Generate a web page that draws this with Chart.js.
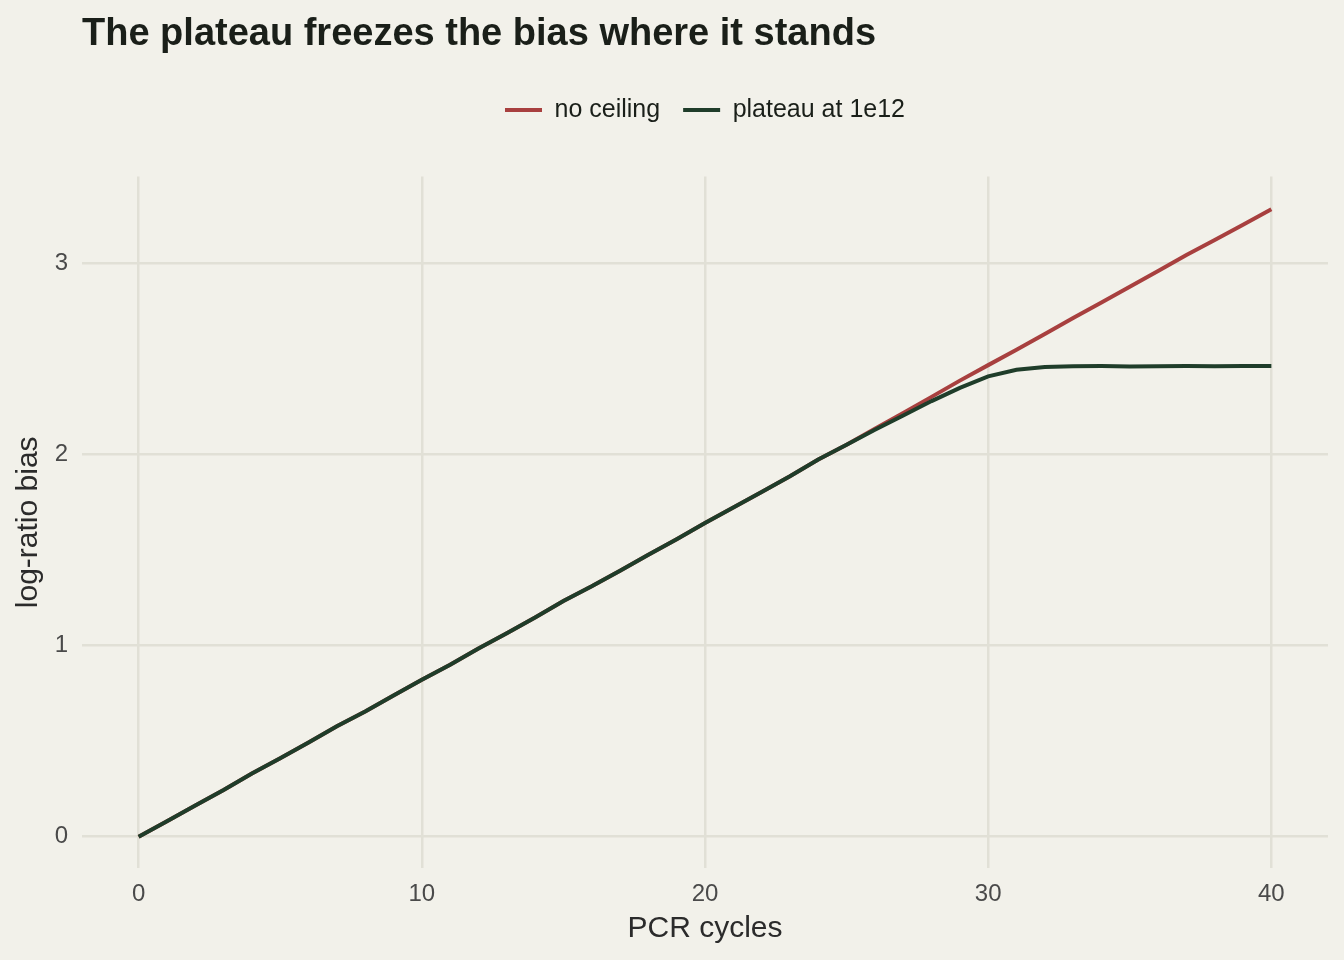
<!DOCTYPE html>
<html>
<head>
<meta charset="utf-8">
<script src="https://cdn.jsdelivr.net/npm/chart.js@4.4.1/dist/chart.umd.min.js"></script>
<style>
  html, body { margin: 0; padding: 0; background: #f2f1ea; }
  #wrap { width: 1344px; height: 960px; }
</style>
</head>
<body>
<div id="wrap"><canvas id="chart" width="1344" height="960"></canvas></div>
<script>
// PCR cycle number on the x axis
const cycles = [
  0, 1, 2, 3, 4, 5, 6, 7, 8, 9, 10,
  11, 12, 13, 14, 15, 16, 17, 18, 19, 20,
  21, 22, 23, 24, 25, 26, 27, 28, 29, 30,
  31, 32, 33, 34, 35, 36, 37, 38, 39, 40
];

// log-ratio bias without a ceiling (keeps growing)
const noCeiling = [
  0, 0.081, 0.163, 0.244, 0.330, 0.410, 0.492, 0.577, 0.655, 0.738, 0.820,
  0.899, 0.984, 1.064, 1.146, 1.232, 1.309, 1.391, 1.474, 1.556, 1.640,
  1.722, 1.803, 1.885, 1.972, 2.050, 2.133, 2.215, 2.300, 2.385, 2.466,
  2.547, 2.629, 2.712, 2.793, 2.876, 2.958, 3.042, 3.120, 3.200, 3.281
];

// log-ratio bias when amplification plateaus at 1e12
const plateau = [
  0, 0.081, 0.163, 0.244, 0.330, 0.410, 0.492, 0.577, 0.655, 0.738, 0.820,
  0.899, 0.984, 1.064, 1.146, 1.232, 1.309, 1.391, 1.474, 1.556, 1.640,
  1.722, 1.803, 1.885, 1.972, 2.050, 2.128, 2.203, 2.278, 2.347, 2.407,
  2.442, 2.456, 2.460, 2.461, 2.459, 2.460, 2.461, 2.460, 2.462, 2.462
];

const xTicks = [0, 10, 20, 30, 40];
const yTicks = [0, 1, 2, 3];

const FONT = '"Liberation Sans", Arial, Helvetica, sans-serif';
const GRID = '#e1e0d6';

// push the plot area down below the legend
const legendGap = {
  id: 'legendGap',
  beforeInit(chart) {
    const fitLegend = chart.legend.fit;
    chart.legend.fit = function fit() {
      fitLegend.bind(chart.legend)();
      this.height += 44;
    };
  }
};

const toPoints = (ys) => cycles.map((c, i) => ({ x: c, y: ys[i] }));

const ctx = document.getElementById('chart').getContext('2d');

new Chart(ctx, {
  type: 'line',
  data: {
    datasets: [
      {
        label: 'no ceiling',
        data: toPoints(noCeiling),
        borderColor: '#a8403f',
        backgroundColor: '#a8403f',
        borderWidth: 4,
        pointRadius: 0,
        tension: 0,
        order: 1,
      },
      {
        label: 'plateau at 1e12',
        data: toPoints(plateau),
        borderColor: '#1f3d2a',
        backgroundColor: '#1f3d2a',
        borderWidth: 4,
        pointRadius: 0,
        tension: 0,
        order: 0, // drawn on top
      },
    ],
  },
  options: {
    responsive: false,
    animation: false,
    layout: {
      padding: { left: 0, right: 16, top: 0, bottom: 0 },
    },
    plugins: {
      title: {
        display: true,
        text: 'The plateau freezes the bias where it stands',
        align: 'start',
        fullSize: false,
        color: '#1a1f19',
        font: { family: FONT, size: 38, weight: 'bold' },
        padding: { top: 12, bottom: 17 },
      },
      legend: {
        position: 'top',
        align: 'center',
        fullSize: false,
        labels: {
          usePointStyle: true,
          pointStyle: 'line',
          pointStyleWidth: 37,
          padding: 23,
          color: '#1a1f19',
          font: { family: FONT, size: 25 },
          sort: (a, b) => a.datasetIndex - b.datasetIndex,
        },
      },
      tooltip: { enabled: false },
    },
    scales: {
      x: {
        type: 'linear',
        min: -2,
        max: 42,
        afterFit: (scale) => { scale.height = 92; },
        afterBuildTicks: (scale) => { scale.ticks = xTicks.map(v => ({ value: v })); },
        ticks: {
          padding: 12,
          color: '#4a4a4a',
          font: { family: FONT, size: 24 },
        },
        grid: { color: GRID, lineWidth: 2.5, drawTicks: false },
        border: { display: false },
        title: {
          display: true,
          text: 'PCR cycles',
          color: '#2b2b2b',
          font: { family: FONT, size: 30 },
          padding: { top: 0, bottom: 13 },
        },
      },
      y: {
        type: 'linear',
        min: -0.164,
        max: 3.452,
        afterFit: (scale) => { scale.width = 82; },
        afterBuildTicks: (scale) => { scale.ticks = yTicks.map(v => ({ value: v })); },
        ticks: {
          padding: 14,
          color: '#4a4a4a',
          font: { family: FONT, size: 24 },
        },
        grid: { color: GRID, lineWidth: 2.5, drawTicks: false },
        border: { display: false },
        title: {
          display: true,
          text: 'log-ratio bias',
          color: '#2b2b2b',
          font: { family: FONT, size: 30 },
          padding: { top: 11, bottom: 0 },
        },
      },
    },
  },
  plugins: [legendGap],
});
</script>
</body>
</html>
